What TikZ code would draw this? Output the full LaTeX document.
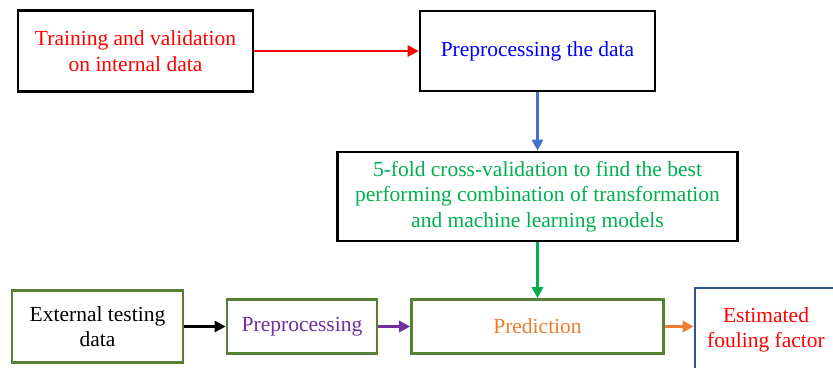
\documentclass[tikz,border=0pt]{standalone}
\usepackage{fontspec}
\setmainfont{Liberation Serif}
\usetikzlibrary{arrows.meta}
\definecolor{txtgreen}{RGB}{0,176,80}
\definecolor{txtpurple}{RGB}{112,48,160}
\definecolor{txtorange}{RGB}{237,125,49}
\definecolor{boxgreen}{RGB}{84,130,53}
\definecolor{boxblue}{RGB}{47,85,151}
\definecolor{arrblue}{RGB}{68,114,196}
\tikzset{
  box/.style={draw, line width=2.6pt, fill=white, align=center, inner sep=2pt,
    font=\fontsize{21.5}{25.5}\selectfont},
  blackbox/.style={box, draw=black},
  greenbox/.style={box, draw=boxgreen},
  bluebox/.style={box, draw=boxblue},
  conn/.style={line width=2.8pt, -{Triangle[length=11pt,width=11pt]}},
}
\begin{document}
\begin{tikzpicture}[x=1pt,y=-1pt]
\useasboundingbox (0,0) rectangle (833,367);
\node[blackbox, minimum width=235pt, minimum height=81pt, text=red] (A) at (135.5,51) {Training and validation\\on internal data};
\node[blackbox, minimum width=235pt, minimum height=80pt, text=blue] (B) at (537.5,51) {Preprocessing the data};
\node[blackbox, minimum width=400pt, minimum height=89pt, text=txtgreen] (C) at (537.5,196.5) {5-fold cross-validation to find the best\\performing combination of transformation\\and machine learning models};
\node[greenbox, minimum width=171pt, minimum height=72pt, text=black] (D) at (97.5,326.5) {External testing\\data};
\node[greenbox, minimum width=150pt, minimum height=54pt, text=txtpurple] (E) at (302,326.5) {Preprocessing};
\node[greenbox, minimum width=252pt, minimum height=54pt, text=txtorange] (F) at (537.5,326.5) {Prediction};
\node[bluebox, minimum width=142pt, minimum height=84pt, text=red] (G) at (766,330) {Estimated\\fouling factor};
\draw[conn, red] (A) -- (B);
\draw[conn, arrblue] (B) -- (C);
\draw[conn, txtgreen] (C) -- (F);
\draw[conn, black] (D) -- (E);
\draw[conn, txtpurple] (E) -- (F);
\draw[conn, txtorange] (F.east) -- (F.east -| G.west);
\end{tikzpicture}
\end{document}
